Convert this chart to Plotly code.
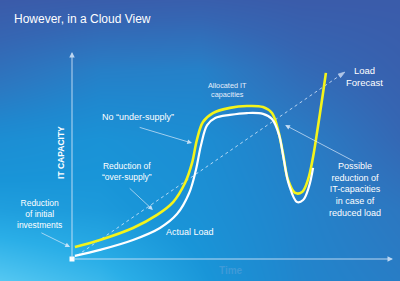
import numpy as np
import plotly.graph_objects as go

# ---- data (time vs IT capacity, arbitrary units 0..100) ----
alloc_t = [0.9, 8.7, 19.0, 26.5, 31.5, 35.2, 37.4, 38.9, 40.8, 43.9, 49.2, 54.5, 59.5,
           62.3, 64.2, 65.7, 67.3, 69.5, 71.7, 73.5, 75.1, 76.6, 78.2, 79.1]
alloc_c = [5.8, 9.2, 15.0, 21.3, 27.5, 36.7, 46.4, 57.5, 66.2, 70.5, 73.0, 73.9, 73.4,
           70.5, 62.3, 51.2, 38.2, 31.9, 32.4, 38.2, 49.3, 63.8, 80.2, 89.9]
load_t = [0.9, 8.7, 19.0, 27.4, 32.7, 36.5, 38.6, 40.2, 42.1, 44.6, 49.2, 54.5, 59.5,
          62.3, 64.5, 66.0, 67.6, 70.1, 72.0, 73.8, 75.1]
load_c = [1.5, 4.4, 9.2, 15.0, 21.7, 31.9, 43.0, 55.1, 64.7, 68.1, 69.6, 70.5, 70.1,
          67.6, 59.9, 47.8, 35.8, 27.5, 28.5, 34.8, 44.0]
forecast_t = [0, 85.0]
forecast_c = [0, 90.3]

# axis ranges so that the plot fills the whole canvas
XR = [-22.43, 102.18]
YR = [-10.63, 125.12]

# ---- background gradient (style only): coarse brightness grid, smoothed ----
bg_px = np.array([0, 100, 200, 300, 400])
bg_py = np.array([281, 210, 140, 70, 0])
bg_level = [
    [1.00, 0.90, 0.72, 0.52, 0.44],
    [0.76, 0.73, 0.65, 0.50, 0.38],
    [0.62, 0.67, 0.61, 0.45, 0.22],
    [0.32, 0.46, 0.48, 0.25, 0.12],
    [0.04, 0.08, 0.10, 0.05, 0.05],
]
bg_scale = [
    [0.0, "#3c58a7"], [0.2, "#3566b3"], [0.4, "#2b79c2"], [0.55, "#1f88cf"],
    [0.7, "#1995d8"], [0.85, "#2aaee7"], [1.0, "#55c8f2"],
]
gx = XR[0] + bg_px / 400 * (XR[1] - XR[0])
gy = YR[0] + (281 - bg_py) / 281 * (YR[1] - YR[0])

fig = go.Figure()
fig.add_trace(go.Heatmap(x=gx, y=gy, z=bg_level, zmin=0, zmax=1, colorscale=bg_scale,
                         zsmooth="best", showscale=False, hoverinfo="skip"))

# cloud at bottom-left
fig.add_shape(type="path", xref="x", yref="y",
              path="M -23,-11 L -23,0.5 C -20,6 -16,8 -12,4 C -8,2 -4,3 0,2 L 8,0 L 30,-4 L 40,-11 Z",
              fillcolor="rgba(120,215,250,0.45)", line_width=0, layer="below")

# load forecast dotted line
fig.add_trace(go.Scatter(x=forecast_t, y=forecast_c, mode="lines+markers",
                         line=dict(color="rgba(230,240,255,0.75)", width=1, dash="dot"),
                         marker=dict(symbol="arrow", angleref="previous", size=[0, 7],
                                     color="rgba(240,245,255,0.95)"),
                         hoverinfo="skip"))
# allocated capacity
fig.add_trace(go.Scatter(x=alloc_t, y=alloc_c, mode="lines", line_shape="spline",
                         line=dict(color="#f4f41a", width=2.6), hoverinfo="skip"))
# actual load
fig.add_trace(go.Scatter(x=load_t, y=load_c, mode="lines", line_shape="spline",
                         line=dict(color="#ffffff", width=2.2), hoverinfo="skip"))
# origin dot
fig.add_trace(go.Scatter(x=[0], y=[0], mode="markers",
                         marker=dict(symbol="square", size=5, color="white"), hoverinfo="skip"))

axc = "rgba(215,232,250,0.85)"
# axes arrows
for (hx, hy) in [(0, 100), (100, 0)]:
    fig.add_annotation(x=hx, y=hy, ax=0, ay=0, xref="x", yref="y", axref="x", ayref="y",
                       text="", showarrow=True, arrowhead=2, arrowsize=1.1, arrowwidth=1,
                       arrowcolor=axc)

# pointer arrows (head, tail)
pointers = [((37.4, 56.0), (20.6, 63.8)),
            ((25.2, 23.7), (17.5, 34.8)),
            ((-0.6, 5.8), (-10.0, 13.0)),
            ((66.4, 64.7), (88.2, 46.9))]
for (hx, hy), (tx, ty) in pointers:
    fig.add_annotation(x=hx, y=hy, ax=tx, ay=ty, xref="x", yref="y", axref="x", ayref="y",
                       text="", showarrow=True, arrowhead=2, arrowsize=1.2, arrowwidth=0.8,
                       arrowcolor="rgba(225,238,252,0.85)")

FONT = "Arial, Liberation Sans, sans-serif"


def label(txt, x, y, size, color="white", xanchor="center", **kw):
    fig.add_annotation(text=txt, x=x, y=y, xref="paper", yref="paper", showarrow=False,
                       xanchor=xanchor, yanchor="middle",
                       font=dict(family=FONT, size=size, color=color), **kw)


label("However, in a Cloud View", 0.03, 0.932, 12, xanchor="left")
label("<b>IT CAPACITY</b>", 0.151, 0.457, 8.5, textangle=-90)
label("<b>Time</b>", 0.578, 0.036, 10, color="#3f9ad8")
label("Load<br>Forecast", 0.91, 0.726, 9.5)
label("Allocated IT<br>capacities", 0.57, 0.678, 7.3, color="#e6eefb")
label("No “under-supply”", 0.345, 0.584, 9)
label("Reduction of<br>“over-supply”", 0.3175, 0.388, 8.5)
label("Reduction<br>of initial<br>investments", 0.0975, 0.238, 8.5)
label("Actual Load", 0.475, 0.174, 9)
label("Possible<br>reduction of<br>IT-capacities<br>in case of<br>reduced load", 0.8875, 0.327, 9)

fig.update_layout(
    width=400, height=281, margin=dict(l=0, r=0, t=0, b=0),
    showlegend=False, paper_bgcolor="#2a74bf", plot_bgcolor="#2a74bf",
    xaxis=dict(range=XR, visible=False, fixedrange=True),
    yaxis=dict(range=YR, visible=False, fixedrange=True),
)
fig.write_html("out.html")
